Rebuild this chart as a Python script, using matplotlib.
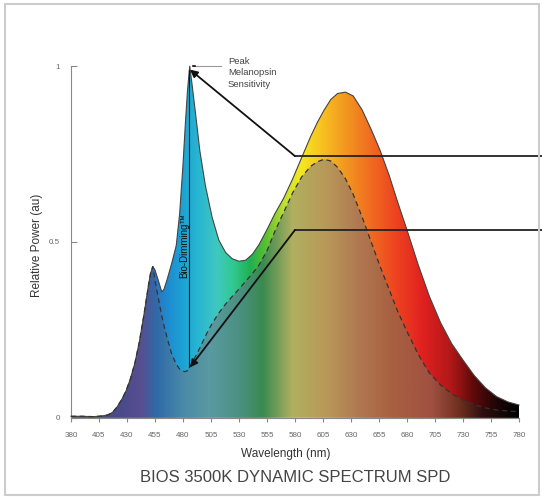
import numpy as np
import matplotlib.pyplot as plt
from matplotlib.colors import LinearSegmentedColormap
from matplotlib.patches import Polygon, Rectangle

# Spectrum
wl = [380, 390, 400, 408, 413, 417, 421, 425, 429, 433, 437, 441, 445, 449, 451,
      453, 455, 458, 461, 463, 466, 470, 474, 477, 480, 482, 484, 486, 488, 491,
      495, 500, 506, 512, 518, 524, 530, 536, 542, 548, 555, 562, 570, 578, 586,
      594, 600, 606, 612, 618, 625, 632, 640, 648, 656, 664, 672, 680, 690, 700,
      710, 720, 730, 740, 750, 760, 770, 780]
full = [0.004, 0.004, 0.003, 0.005, 0.008, 0.015, 0.03, 0.05, 0.075, 0.11, 0.155,
        0.215, 0.29, 0.373, 0.41, 0.43, 0.42, 0.39, 0.358, 0.365, 0.395, 0.44,
        0.49, 0.58, 0.72, 0.83, 0.93, 1.0, 0.95, 0.87, 0.76, 0.66, 0.57, 0.505,
        0.47, 0.452, 0.445, 0.448, 0.465, 0.493, 0.535, 0.58, 0.625, 0.68, 0.74,
        0.80, 0.84, 0.875, 0.905, 0.922, 0.926, 0.915, 0.875, 0.82, 0.76, 0.69,
        0.61, 0.534, 0.435, 0.345, 0.27, 0.21, 0.164, 0.12, 0.085, 0.06, 0.045,
        0.036]
dimmed = [0.004, 0.004, 0.003, 0.005, 0.008, 0.015, 0.03, 0.05, 0.075, 0.11, 0.155,
          0.215, 0.29, 0.373, 0.41, 0.43, 0.39, 0.34, 0.29, 0.262, 0.225, 0.18,
          0.152, 0.138, 0.132, 0.131, 0.134, 0.143, 0.155, 0.173, 0.198, 0.232,
          0.268, 0.298, 0.323, 0.345, 0.366, 0.388, 0.41, 0.435, 0.475, 0.53, 0.585,
          0.64, 0.685, 0.715, 0.728, 0.735, 0.73, 0.712, 0.68, 0.635, 0.57, 0.50,
          0.43, 0.365, 0.30, 0.245, 0.18, 0.127, 0.093, 0.068, 0.05, 0.037, 0.028,
          0.022, 0.019, 0.017]
xticks = np.arange(380, 781, 25)
yticks = [0, 0.5, 1]
yticklabels = ['0', '0.5', '1']

# colour stops (wavelength, colour) for the two gradient fills
bright_stops = [(380, '#4e4f8e'), (430, '#5a5096'), (450, '#3a66b0'), (465, '#1f8ad0'),
                (480, '#1ba4d4'), (495, '#2ab8d0'), (510, '#40c8c0'), (525, '#30c890'),
                (540, '#20b050'), (555, '#60c030'), (570, '#c0e030'), (585, '#f4e820'),
                (605, '#f8c020'), (625, '#f29820'), (650, '#f06820'), (670, '#ee4420'),
                (695, '#e02020'), (720, '#b01818'), (740, '#600a0a'), (760, '#200505'),
                (780, '#000000')]
dim_stops = [(380, '#4e4f8e'), (424, '#4a4a8a'), (442, '#584e90'), (456, '#2f6aa8'),
             (480, '#4a8aa8'), (504, '#5a9aa0'), (531, '#4a9080'), (551, '#3a8a50'),
             (578, '#b0b060'), (608, '#b89858'), (638, '#b07850'), (667, '#a86040'),
             (703, '#a05040'), (727, '#703020'), (748, '#301010'), (780, '#000000')]


def make_cmap(stops):
    lo, hi = stops[0][0], stops[-1][0]
    return LinearSegmentedColormap.from_list(
        'spec', [((w - lo) / (hi - lo), c) for w, c in stops])


fig = plt.figure(figsize=(5.42, 4.97), dpi=100)
ax = fig.add_axes([71 / 542, 1 - 417.7 / 497, 448 / 542, 351.6 / 497])
ax.set_xlim(380, 780)
ax.set_ylim(0, 1)

grad = np.linspace(0, 1, 800).reshape(1, -1)
for vals, stops, z in [(full, bright_stops, 1), (dimmed, dim_stops, 2)]:
    verts = np.column_stack([np.r_[wl, wl[::-1]], np.r_[vals, np.zeros(len(wl))]])
    patch = Polygon(verts, closed=True, facecolor='none', edgecolor='none',
                    transform=ax.transData)
    ax.add_patch(patch)
    im = ax.imshow(grad, cmap=make_cmap(stops), extent=[380, 780, 0, 1],
                   aspect='auto', origin='lower', zorder=z, interpolation='bilinear')
    im.set_clip_path(patch)

ax.plot(wl, full, color='#444444', lw=0.8, zorder=3, clip_on=False)
ax.plot(wl, dimmed, color='#333333', lw=0.9, ls=(0, (4, 3)), zorder=3)

# annotations
ax.plot([489, 514], [1.0, 1.0], color='#999999', lw=0.8, clip_on=False, zorder=5)
ax.plot([488.5, 490.5], [1.0, 1.0], color='#111111', lw=1.2, clip_on=False, zorder=5)
ax.text(520, 1.025, 'Peak\nMelanopsin\nSensitivity', fontsize=6.8, color='#444444',
        va='top', ha='left', linespacing=1.3, family='Liberation Sans')

ax.plot([485.5, 485.5], [0.99, 0.145], color='#111111', lw=0.8, zorder=5)
ax.text(481.5, 0.49, 'Bio-Dimming™', rotation=90, fontsize=7, color='#111111',
        ha='center', va='center', family='Liberation Sans', zorder=5)

for ytip, yel in [(0.99, 0.744), (0.143, 0.534)]:
    ax.plot([580, 801], [yel, yel], color='#222222', lw=1.3, clip_on=False, zorder=5)
    ax.annotate('', xy=(486.2, ytip), xytext=(580, yel), zorder=6,
                arrowprops=dict(arrowstyle='-|>', color='#111111', lw=1.3,
                                mutation_scale=11, shrinkA=0, shrinkB=0))

# axes styling
for s in ['top', 'right']:
    ax.spines[s].set_visible(False)
for s in ['left', 'bottom']:
    ax.spines[s].set_color('#888888')
    ax.spines[s].set_linewidth(0.8)
ax.set_xticks(xticks)
ax.set_xticklabels([str(t) for t in xticks], fontsize=5.8, color='#666666',
                   family='Liberation Sans')
ax.set_yticks(yticks)
ax.set_yticklabels(yticklabels, fontsize=5.8, color='#666666', family='Liberation Sans')
ax.tick_params(axis='x', direction='out', length=3, color='#888888', pad=7)
ax.tick_params(axis='y', direction='in', length=4, color='#888888', pad=8)

fig.text(286 / 542, 1 - 454 / 497, 'Wavelength (nm)', fontsize=8.5, color='#333333',
         ha='center', va='center', family='Liberation Sans')
fig.text(37 / 542, 1 - 245 / 497, 'Relative Power (au)', fontsize=8.5, color='#333333',
         ha='center', va='center', rotation=90, family='Liberation Sans')
fig.text(295 / 542, 1 - 478 / 497, 'BIOS 3500K DYNAMIC SPECTRUM SPD', fontsize=12,
         color='#444444', ha='center', va='center', family='Liberation Sans')

fig.patches.append(Rectangle((5 / 542, 1 - 495 / 497), 534 / 542, 491 / 497,
                             transform=fig.transFigure, fill=False,
                             edgecolor='#cccccc', lw=1.5))

fig.savefig('out.png', dpi=100)
